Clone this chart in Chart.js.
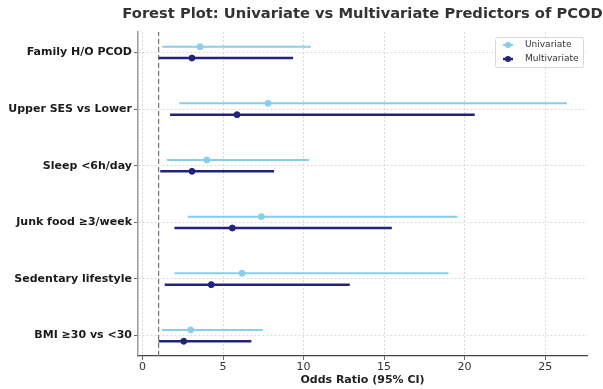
<!DOCTYPE html>
<html>
<head>
<meta charset="utf-8">
<script src="https://cdn.jsdelivr.net/npm/chart.js@4.4.1/dist/chart.umd.min.js"></script>
<style>
  html, body { margin: 0; padding: 0; background: #fff; }
</style>
</head>
<body>
<canvas id="forest" width="603" height="389"></canvas>
<script>
// predictors, listed top to bottom as in the plot
const factors = ["Family H/O PCOD", "Upper SES vs Lower", "Sleep <6h/day",
  "Junk food ≥3/week", "Sedentary lifestyle", "BMI ≥30 vs <30"];

// univariate odds ratios + 95% CI
const uniOR   = [3.57, 7.80, 3.99, 7.38, 6.18, 2.99];
const uniLow  = [1.23, 2.29, 1.50, 2.81, 1.98, 1.21];
const uniHigh = [10.45, 26.35, 10.36, 19.55, 19.00, 7.47];

// multivariate odds ratios + 95% CI
const multiOR   = [3.07, 5.87, 3.07, 5.58, 4.27, 2.56];
const multiLow  = [1.00, 1.71, 1.10, 1.98, 1.38, 1.00];
const multiHigh = [9.35, 20.63, 8.17, 15.48, 12.87, 6.76];

const xTicks = [0, 5, 10, 15, 20, 25];
const noEffect = 1; // OR = 1 reference line

const n = factors.length;
const yMin = -0.36, yMax = n - 1 + 0.36;
const pos = (i) => n - 1 - i; // top row gets highest y

// build CI segments separated by gaps
function ciSegments(low, high, shift) {
  const out = [];
  low.forEach((lo, i) => {
    out.push({ x: lo, y: pos(i) + shift });
    out.push({ x: high[i], y: pos(i) + shift });
    out.push({ x: null, y: null });
  });
  return out;
}
function points(vals, shift) {
  return vals.map((v, i) => ({ x: v, y: pos(i) + shift }));
}

const UNI = "#87CEEB";
const MULTI = "#23237e";
const FONT = "'DejaVu Sans', sans-serif";

// title centred over the plot area
const titlePlugin = {
  id: "plotTitle",
  afterDraw(chart) {
    const { ctx, chartArea } = chart;
    ctx.save();
    ctx.font = "bold 14.7px " + FONT;
    ctx.fillStyle = "#333";
    ctx.textAlign = "center";
    ctx.textBaseline = "middle";
    ctx.fillText("Forest Plot: Univariate vs Multivariate Predictors of PCOD",
      (chartArea.left + chartArea.right) / 2, 14);
    ctx.restore();
  }
};

// matplotlib style legend box in upper right
const legendPlugin = {
  id: "boxLegend",
  afterDraw(chart) {
    const { ctx, chartArea } = chart;
    const entries = [
      { label: "Univariate", color: UNI, lw: 2 },
      { label: "Multivariate", color: MULTI, lw: 2.5 }
    ];
    const w = 88, h = 30;
    const x0 = chartArea.right - 4 - w, y0 = chartArea.top + 5;
    ctx.save();
    ctx.fillStyle = "rgba(255,255,255,0.85)";
    ctx.strokeStyle = "#d8d8d8";
    ctx.lineWidth = 1;
    ctx.beginPath();
    ctx.roundRect(x0 + 0.5, y0 + 0.5, w, h, 2);
    ctx.fill();
    ctx.stroke();
    ctx.font = "9px " + FONT;
    ctx.textBaseline = "middle";
    entries.forEach((e, k) => {
      const yy = y0 + 8 + k * 14;
      ctx.strokeStyle = e.color;
      ctx.lineWidth = e.lw;
      ctx.beginPath();
      ctx.moveTo(x0 + 8, yy);
      ctx.lineTo(x0 + 18, yy);
      ctx.stroke();
      ctx.fillStyle = e.color;
      ctx.beginPath();
      ctx.arc(x0 + 13, yy, 3, 0, Math.PI * 2);
      ctx.fill();
      ctx.fillStyle = "#333";
      ctx.fillText(e.label, x0 + 30, yy);
    });
    ctx.restore();
  }
};

new Chart(document.getElementById("forest"), {
  type: "line",
  data: {
    datasets: [
      { label: "Univariate", data: points(uniOR, 0.1), showLine: false,
        pointRadius: 3, pointBackgroundColor: UNI, pointBorderColor: UNI },
      { label: "Multivariate", data: points(multiOR, -0.1), showLine: false,
        pointRadius: 3, pointBackgroundColor: MULTI, pointBorderColor: MULTI },
      { label: "Univariate CI", data: ciSegments(uniLow, uniHigh, 0.1),
        borderColor: UNI, borderWidth: 2, pointRadius: 0, spanGaps: false },
      { label: "Multivariate CI", data: ciSegments(multiLow, multiHigh, -0.1),
        borderColor: MULTI, borderWidth: 2.5, pointRadius: 0, spanGaps: false },
      { label: "OR = 1", data: [{ x: noEffect, y: yMin }, { x: noEffect, y: yMax }],
        borderColor: "#777", borderWidth: 1.2, borderDash: [5, 3], pointRadius: 0 }
    ]
  },
  options: {
    responsive: false,
    animation: false,
    layout: { padding: { top: 32, right: 16, left: 0, bottom: 0 } },
    plugins: { legend: { display: false }, tooltip: { enabled: false }, title: { display: false } },
    scales: {
      x: {
        type: "linear",
        min: -0.28, max: 27.6,
        afterBuildTicks: (s) => { s.ticks = xTicks.map((v) => ({ value: v })); },
        afterFit: (s) => { s.height = 33; },
        grid: { color: "#d0d0d0", tickColor: "#444", tickLength: 4, lineWidth: 0.8 },
        border: { color: "#444", width: 1.2, dash: [2, 2] },
        ticks: { color: "#333", font: { family: FONT, size: 11 }, padding: 1, maxRotation: 0 },
        title: { display: true, text: "Odds Ratio (95% CI)", color: "#222",
          font: { family: FONT, size: 11, weight: "bold" }, padding: { top: 0, bottom: 2 } }
      },
      y: {
        type: "linear",
        min: yMin, max: yMax,
        afterBuildTicks: (s) => { s.ticks = factors.map((f, i) => ({ value: pos(i) })); },
        afterFit: (s) => { s.width = 138; },
        grid: { color: "#d0d0d0", tickColor: "#444", tickLength: 4, lineWidth: 0.8 },
        border: { color: "#999", width: 1.5, dash: [2, 2] },
        ticks: {
          color: "#1a1a1a", font: { family: FONT, size: 11, weight: "bold" }, padding: 2,
          callback: (v) => factors[n - 1 - v]
        }
      }
    }
  },
  plugins: [titlePlugin, legendPlugin]
});
</script>
</body>
</html>
